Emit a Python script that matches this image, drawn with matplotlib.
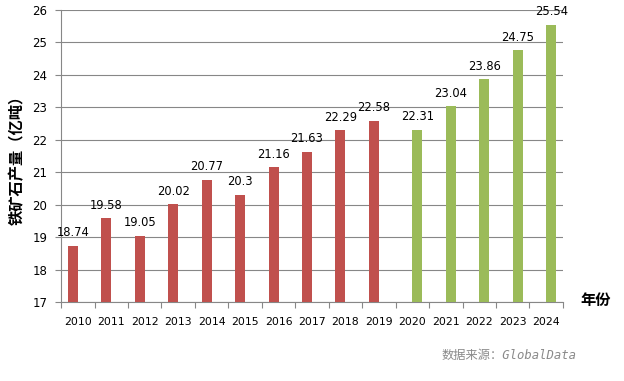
import numpy as np
import matplotlib.pyplot as plt
from matplotlib.ticker import FixedLocator

plt.rcParams['font.family'] = ['DejaVu Sans', 'Noto Sans CJK SC']

# data
years = ['2010', '2011', '2012', '2013', '2014', '2015', '2016', '2017',
         '2018', '2019', '2020', '2021', '2022', '2023', '2024']
hist_years = years[:10]
hist_vals = [18.74, 19.58, 19.05, 20.02, 20.77, 20.3, 21.16, 21.63, 22.29, 22.58]
fc_years = years[10:]
fc_vals = [22.31, 23.04, 23.86, 24.75, 25.54]

red = '#C0504D'
green = '#9BBB59'
grid_c = '#878787'

fig = plt.figure(figsize=(6.24, 3.81), dpi=100)
ax = fig.add_axes([0.098, 0.207, 0.804, 0.767])

x = np.arange(len(years))
w = 0.3
xh = np.array([years.index(y) for y in hist_years])
xf = np.array([years.index(y) for y in fc_years])

ax.bar(xh - w / 2, np.array(hist_vals) - 17, bottom=17, width=w, color=red, zorder=3)
ax.bar(xf + w / 2, np.array(fc_vals) - 17, bottom=17, width=w, color=green, zorder=3)

for xi, v in zip(xh - w / 2, hist_vals):
    ax.text(xi, v + 0.2, f'{v:g}', ha='center', va='bottom', fontsize=8.3)
for xi, v in zip(xf + w / 2, fc_vals):
    ax.text(xi, v + 0.2, f'{v:g}', ha='center', va='bottom', fontsize=8.3)

ax.set_xlim(-0.5, len(years) - 0.5)
ax.set_ylim(17, 26)
ax.set_yticks(range(17, 27))
ax.yaxis.grid(True, color=grid_c, linewidth=0.8, zorder=0)
ax.set_axisbelow(True)

ax.set_xticks(x)
ax.set_xticklabels(years, fontsize=7.8)
ax.xaxis.set_minor_locator(FixedLocator(np.arange(-0.5, len(years), 1)))
ax.tick_params(axis='x', which='major', length=0, pad=11)
ax.tick_params(axis='x', which='minor', length=4, color=grid_c, width=0.8)
ax.tick_params(axis='y', length=4, color=grid_c, width=0.8, labelsize=8.5, pad=6)

for s in ['top', 'right']:
    ax.spines[s].set_visible(False)
ax.spines['left'].set_color(grid_c)
ax.spines['bottom'].set_color(grid_c)
ax.spines['left'].set_linewidth(0.8)
ax.spines['bottom'].set_linewidth(0.8)

ax.set_ylabel('铁矿石产量（亿吨）', family=['Noto Sans CJK SC'], fontweight='bold',
              fontsize=11, labelpad=5)
fig.text(0.955, 0.213, '年份', family=['Noto Sans CJK SC'], fontweight='bold',
         fontsize=11, ha='center', va='center')
fig.text(0.815, 0.068, '数据来源：GlobalData', family=['DejaVu Sans Mono', 'Noto Sans CJK SC'],
         style='italic', color='#8A8A8A', fontsize=8.8, ha='center', va='center')

fig.savefig('out.png', dpi=100)
